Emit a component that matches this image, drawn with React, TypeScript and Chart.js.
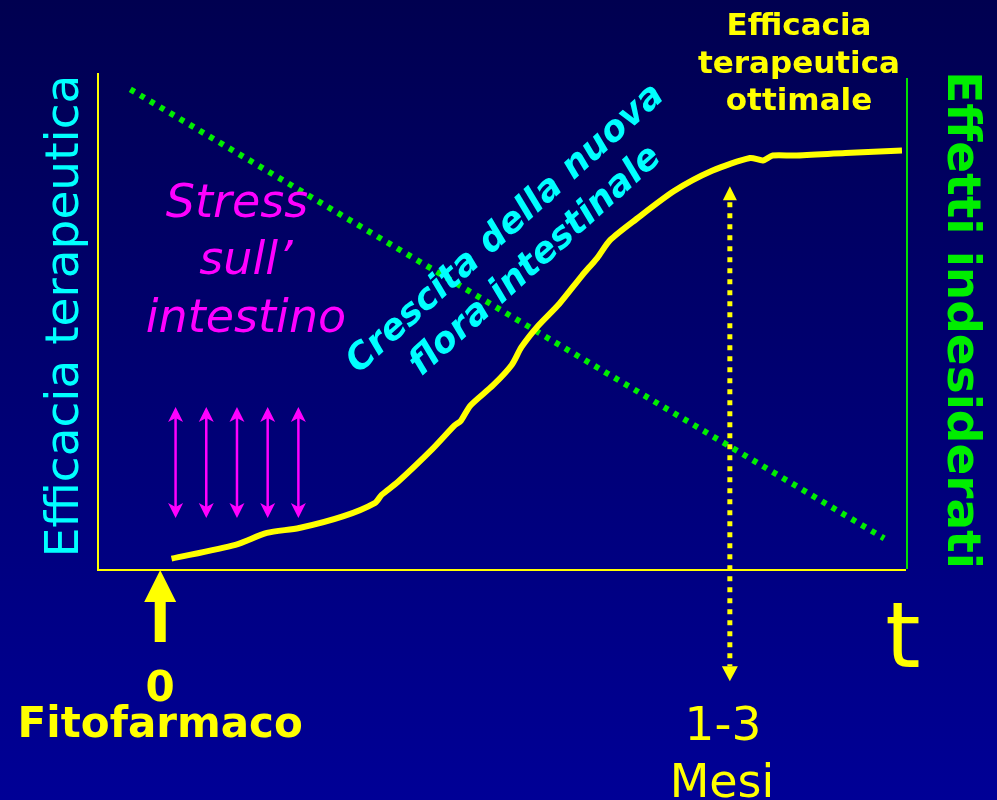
import React, { useEffect, useRef } from "react";
import { Chart, registerables } from "chart.js";

Chart.register(...registerables);

// Therapeutic efficacy curve (x: time 0-100, y: efficacy 0-100)
const efficacyX = [9.1, 17.0, 20.9, 24.9, 30.4, 34.3, 35.1, 37.1, 41.4, 44.1, 44.9, 46.1, 48.9, 51.2, 52.4, 54.4, 57.1, 59.9, 61.8, 63.4, 66.6, 71.3, 76.0, 80.7, 82.3, 83.5, 86.2, 92.5, 99.5];
const efficacyY = [2.1, 4.9, 7.3, 8.3, 10.7, 13.4, 15.0, 17.6, 24.3, 29.0, 30.0, 33.1, 37.2, 41.3, 44.9, 49.1, 53.7, 59.4, 63.0, 66.6, 70.8, 76.5, 80.6, 83.2, 82.7, 83.7, 83.7, 84.2, 84.7];

// Side effects (green dotted line)
const sideX = [4.0, 97.3];
const sideY = [97.1, 6.2];

// Markers
const startX = 7.7; // "0 Fitofarmaco" arrow
const monthsX = 78.2; // "1-3 Mesi" arrow
const monthsYTop = 77.5;
const monthsYBottom = -22.7;
const stressX = [9.6, 13.4, 17.2, 21.0, 24.8];
const stressYTop = 32.8;
const stressYBottom = 10.3;

const leftAxisTitle = "Efficacia terapeutica";
const rightAxisTitle = "Effetti indesiderati";
const optimumLabel = ["Efficacia", "terapeutica", "ottimale"];
const stressLabel = ["Stress", "sull’", "intestino"];
const growthLabel = ["Crescita della nuova", "flora intestinale"];
const startLabel = ["0", "Fitofarmaco"];
const monthsLabel = ["1-3", "Mesi"];
const timeLabel = "t";

const FONT = "'DejaVu Sans', Verdana, sans-serif";

function tri(ctx: CanvasRenderingContext2D, tipX: number, tipY: number, w: number, h: number, dir: number) {
  ctx.beginPath();
  ctx.moveTo(tipX, tipY);
  ctx.lineTo(tipX - w / 2, tipY + dir * h);
  ctx.lineTo(tipX + w / 2, tipY + dir * h);
  ctx.closePath();
  ctx.fill();
}

function stealth(ctx: CanvasRenderingContext2D, tipX: number, tipY: number, w: number, h: number, notch: number, dir: number) {
  ctx.beginPath();
  ctx.moveTo(tipX, tipY);
  ctx.lineTo(tipX - w / 2, tipY + dir * h);
  ctx.lineTo(tipX, tipY + dir * (h - notch));
  ctx.lineTo(tipX + w / 2, tipY + dir * h);
  ctx.closePath();
  ctx.fill();
}

const slidePlugin = {
  id: "slide",
  beforeDraw(chart: any) {
    const ctx = chart.ctx as CanvasRenderingContext2D;
    const g = ctx.createLinearGradient(0, 0, 0, chart.height);
    g.addColorStop(0, "#000050");
    g.addColorStop(1, "#000096");
    ctx.save();
    ctx.fillStyle = g;
    ctx.fillRect(0, 0, chart.width, chart.height);
    ctx.restore();
  },
  beforeDatasetsDraw(chart: any) {
    const ctx = chart.ctx as CanvasRenderingContext2D;
    const a = chart.chartArea;
    ctx.save();
    ctx.lineWidth = 2;
    ctx.strokeStyle = "#FFFF00";
    ctx.beginPath();
    ctx.moveTo(a.left, a.top - 2);
    ctx.lineTo(a.left, a.bottom + 1);
    ctx.lineTo(a.right, a.bottom + 1);
    ctx.stroke();
    ctx.strokeStyle = "#00E000";
    ctx.beginPath();
    ctx.moveTo(a.right + 1, a.top + 3);
    ctx.lineTo(a.right + 1, a.bottom);
    ctx.stroke();
    ctx.restore();
  },
  afterDraw(chart: any) {
    const ctx = chart.ctx as CanvasRenderingContext2D;
    const xs = chart.scales.x;
    const ys = chart.scales.y;
    const a = chart.chartArea;
    ctx.save();

    // stress arrows (magenta)
    ctx.strokeStyle = "#FF00FF";
    ctx.fillStyle = "#FF00FF";
    ctx.lineWidth = 2.5;
    for (const v of stressX) {
      const px = xs.getPixelForValue(v);
      const t = ys.getPixelForValue(stressYTop);
      const b = ys.getPixelForValue(stressYBottom);
      ctx.beginPath();
      ctx.moveTo(px, t + 10);
      ctx.lineTo(px, b - 10);
      ctx.stroke();
      stealth(ctx, px, t, 15, 15, 4, 1);
      stealth(ctx, px, b, 15, 15, 4, -1);
    }

    // 1-3 months dotted arrow
    {
      const px = xs.getPixelForValue(monthsX);
      const t = ys.getPixelForValue(monthsYTop);
      const b = ys.getPixelForValue(monthsYBottom);
      ctx.strokeStyle = "#FFFF00";
      ctx.fillStyle = "#FFFF00";
      ctx.lineWidth = 5;
      ctx.setLineDash([5, 6]);
      ctx.beginPath();
      ctx.moveTo(px, t + 16);
      ctx.lineTo(px, b - 15);
      ctx.stroke();
      ctx.setLineDash([]);
      tri(ctx, px, t, 14, 14, 1);
      tri(ctx, px, b, 16, 15, -1);
    }

    // start arrow
    {
      const px = xs.getPixelForValue(startX);
      const tip = a.bottom + 1;
      ctx.fillStyle = "#FFFF00";
      tri(ctx, px, tip, 32, 32, 1);
      ctx.fillRect(px - 5.5, tip + 31, 11, 41);
    }

    // texts
    ctx.textBaseline = "alphabetic";
    ctx.textAlign = "center";

    ctx.fillStyle = "#FFFF00";
    ctx.font = `bold 42px ${FONT}`;
    ctx.fillText(startLabel[0], xs.getPixelForValue(startX), 701);
    ctx.fillText(startLabel[1], xs.getPixelForValue(startX), 737);

    ctx.font = `47px ${FONT}`;
    ctx.fillText(monthsLabel[0], 723, 740);
    ctx.font = `46px ${FONT}`;
    ctx.fillText(monthsLabel[1], 722, 797);

    ctx.font = `90px ${FONT}`;
    ctx.fillText(timeLabel, 903, 667);

    ctx.font = `bold 31px ${FONT}`;
    optimumLabel.forEach((s, i) => ctx.fillText(s, 799, 35 + i * 37.5));

    ctx.fillStyle = "#FF00FF";
    ctx.font = `italic 46px ${FONT}`;
    ctx.fillText(stressLabel[0], 237, 217);
    ctx.fillText(stressLabel[1], 246, 274);
    ctx.fillText(stressLabel[2], 246, 332);

    // left axis title
    ctx.fillStyle = "#00FFFF";
    ctx.font = `47px ${FONT}`;
    ctx.save();
    ctx.translate(78, 316);
    ctx.rotate(-Math.PI / 2);
    ctx.fillText(leftAxisTitle, 0, 0);
    ctx.restore();

    // growth label (rotated)
    ctx.font = `italic bold 36px ${FONT}`;
    const ang = (-42 * Math.PI) / 180;
    ctx.save();
    ctx.translate(512, 236);
    ctx.rotate(ang);
    ctx.fillText(growthLabel[0], 0, 0);
    ctx.restore();
    ctx.save();
    ctx.translate(542, 268);
    ctx.rotate(ang);
    ctx.fillText(growthLabel[1], 0, 0);
    ctx.restore();

    // right axis title
    ctx.fillStyle = "#00EE00";
    ctx.font = `bold 47px ${FONT}`;
    ctx.save();
    ctx.translate(948, 320);
    ctx.rotate(Math.PI / 2);
    ctx.fillText(rightAxisTitle, 0, 0);
    ctx.restore();

    ctx.restore();
  },
};

export default function App() {
  const ref = useRef<HTMLCanvasElement>(null);
  useEffect(() => {
    if (!ref.current) return;
    const chart = new Chart(ref.current, {
      type: "line",
      data: {
        datasets: [
          {
            label: "Efficacia terapeutica",
            data: efficacyX.map((x, i) => ({ x, y: efficacyY[i] })),
            borderColor: "#FFFF00",
            borderWidth: 6,
            pointRadius: 0,
            tension: 0.25,
            fill: false,
          },
          {
            label: "Effetti indesiderati",
            data: sideX.map((x, i) => ({ x, y: sideY[i] })),
            borderColor: "#00EE00",
            borderWidth: 6,
            borderDash: [5, 6.5],
            pointRadius: 0,
            fill: false,
          },
        ],
      },
      options: {
        responsive: false,
        animation: false,
        devicePixelRatio: 1,
        layout: { padding: { left: 98, right: 91, top: 75, bottom: 231 } },
        plugins: { legend: { display: false }, tooltip: { enabled: false } },
        scales: {
          x: { type: "linear", min: 0, max: 100, display: false },
          y: { type: "linear", min: 0, max: 100, display: false },
        },
      },
      plugins: [slidePlugin],
    });
    return () => chart.destroy();
  }, []);
  return (
    <div style={{ position: "absolute", left: 0, top: 0, width: 997, height: 800 }}>
      <canvas ref={ref} width={997} height={800} style={{ display: "block", width: 997, height: 800 }} />
    </div>
  );
}
